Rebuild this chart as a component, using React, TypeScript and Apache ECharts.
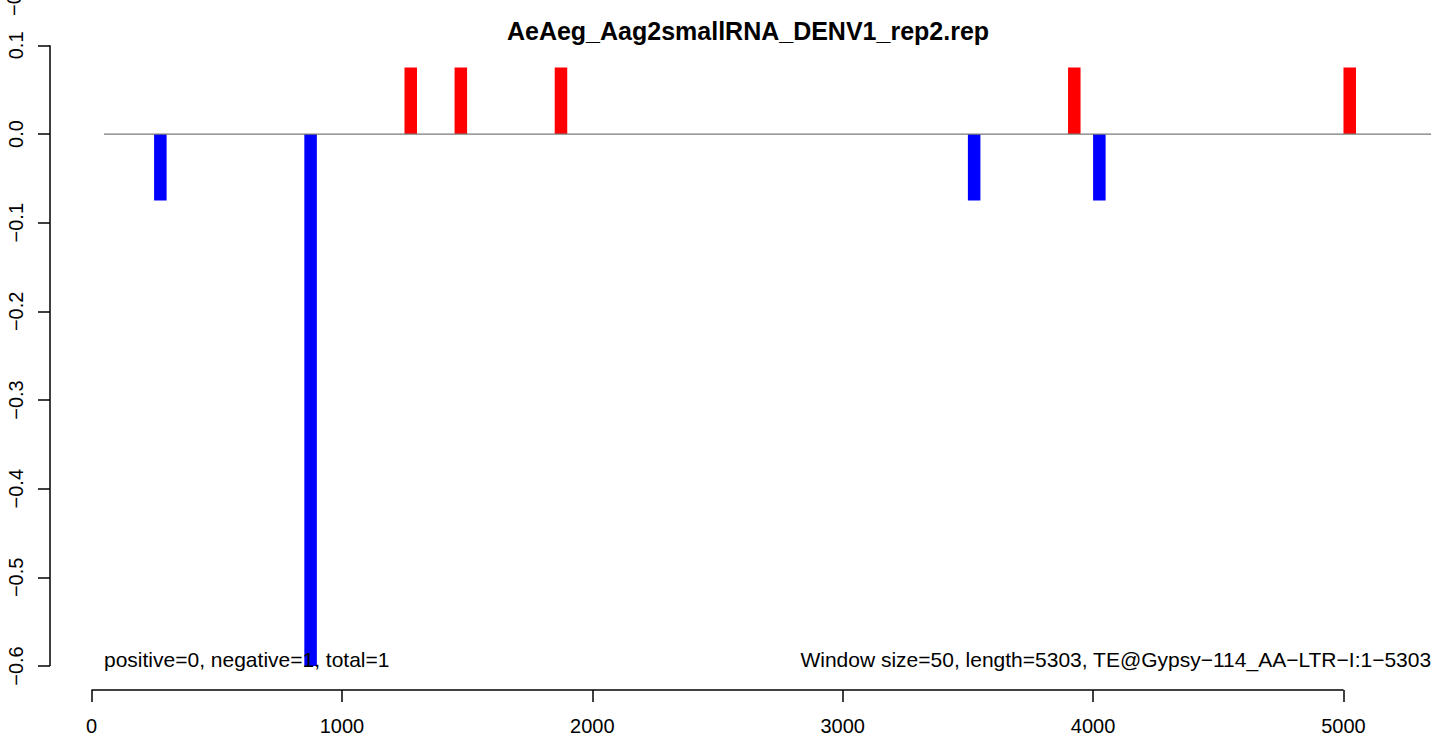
import React, { useEffect, useRef } from "react";
import * as echarts from "echarts";

// ---- data ----
const windowSize = 50;
const windowStarts = [250, 850, 1250, 1450, 1850, 3500, 3900, 4000, 5000];
const windowValues = [-0.075, -0.6, 0.075, 0.075, 0.075, -0.075, 0.075, -0.075, 0.075];
const xTicks = [0, 1000, 2000, 3000, 4000, 5000];
const yTicks = [-0.6, -0.5, -0.4, -0.3, -0.2, -0.1, 0, 0.1];
const zeroLine = [[50, 0], [5350, 0]];
const annotX = [50, 5350];
const annotY = [-0.6, -0.6];
const annotText = [
  "positive=0, negative=1, total=1",
  "Window size=50, length=5303, TE@Gypsy\u2212114_AA\u2212LTR\u2212I:1\u22125303",
];
const annotAlign = ["left", "right"];
const titleText = "AeAeg_Aag2smallRNA_DENV1_rep2.rep";

const X_MIN = -165.7;
const X_MAX = 5357.5;
const Y_MIN = -0.627;
const Y_MAX = 0.102;

const FONT = '"Liberation Sans", Arial, Helvetica, sans-serif';

export default function App() {
  const ref = useRef<HTMLDivElement>(null);
  useEffect(() => {
    if (!ref.current) return;
    const chart = echarts.init(ref.current, null, { renderer: "svg" });
    const option: any = {
      animation: false,
      backgroundColor: "#ffffff",
      grid: { left: 50, top: 43.6, width: 1383, height: 646.4, containLabel: false },
      xAxis: {
        type: "value",
        min: X_MIN,
        max: X_MAX,
        axisLine: { show: false, onZero: false },
        splitLine: { show: false },
        axisTick: {
          show: true,
          length: 12,
          customValues: xTicks,
          lineStyle: { color: "#000", width: 1.5 },
        },
        axisLabel: {
          customValues: xTicks,
          margin: 26,
          fontSize: 20,
          fontFamily: FONT,
          color: "#000",
          formatter: (v: number) => String(v),
        },
      },
      yAxis: {
        type: "value",
        min: Y_MIN,
        max: Y_MAX,
        axisLine: { show: false, onZero: false },
        splitLine: { show: false },
        axisTick: {
          show: true,
          length: 12,
          customValues: yTicks,
          lineStyle: { color: "#000", width: 1.5 },
        },
        axisLabel: {
          customValues: yTicks,
          rotate: 90,
          margin: 34,
          fontSize: 20,
          fontFamily: FONT,
          color: "#000",
          align: "center",
          verticalAlign: "middle",
          formatter: (v: number) => v.toFixed(1).replace("-", "\u2212"),
        },
      },
      graphic: [
        {
          type: "text",
          x: 748,
          y: 31,
          style: {
            text: titleText,
            fill: "#000",
            font: `bold 25px ${FONT}`,
            align: "center",
            verticalAlign: "middle",
            textAlign: "center",
            textVerticalAlign: "middle",
          },
        },
        {
          type: "text",
          x: 14,
          y: 16,
          rotation: Math.PI / 2,
          style: {
            text: "\u22120",
            fill: "#000",
            font: `20px ${FONT}`,
            align: "left",
            verticalAlign: "middle",
            textAlign: "left",
            textVerticalAlign: "middle",
          },
        },
      ],
      series: [
        {
          type: "custom",
          clip: false,
          data: windowStarts.map((s, i) => [s, windowValues[i]]),
          encode: { x: 0, y: 1 },
          renderItem: (params: any, api: any) => {
            const s = api.value(0);
            const v = api.value(1);
            const p1 = api.coord([s, v]);
            const p2 = api.coord([s + windowSize, 0]);
            return {
              type: "rect",
              shape: {
                x: p1[0],
                y: Math.min(p1[1], p2[1]),
                width: p2[0] - p1[0],
                height: Math.abs(p2[1] - p1[1]),
              },
              style: { fill: v > 0 ? "#ff0000" : "#0000ff" },
            };
          },
          z: 2,
        },
        {
          type: "line",
          data: zeroLine,
          symbol: "none",
          clip: false,
          silent: true,
          lineStyle: { color: "#7a7a7a", width: 1.2 },
          z: 3,
        },
        {
          type: "line",
          data: [[xTicks[0], Y_MIN], [xTicks[xTicks.length - 1], Y_MIN]],
          symbol: "none",
          clip: false,
          silent: true,
          lineStyle: { color: "#000", width: 1.5 },
          z: 3,
        },
        {
          type: "line",
          data: [[X_MIN, yTicks[0]], [X_MIN, yTicks[yTicks.length - 1]]],
          symbol: "none",
          clip: false,
          silent: true,
          lineStyle: { color: "#000", width: 1.5 },
          z: 3,
        },
        {
          type: "custom",
          clip: false,
          data: annotX.map((x, i) => [x, annotY[i], i]),
          encode: { x: 0, y: 1 },
          renderItem: (params: any, api: any) => {
            const idx = api.value(2);
            const p = api.coord([api.value(0), api.value(1)]);
            return {
              type: "text",
              x: p[0],
              y: p[1] + 4,
              style: {
                text: annotText[idx],
                fill: "#000",
                font: `21px ${FONT}`,
                align: annotAlign[idx],
                verticalAlign: "bottom",
                textAlign: annotAlign[idx],
                textVerticalAlign: "bottom",
              },
            };
          },
          z: 4,
        },
      ],
    };
    chart.setOption(option);
    return () => chart.dispose();
  }, []);
  return (
    <div
      ref={ref}
      style={{ position: "absolute", left: 0, top: 0, width: 1433, height: 740 }}
    />
  );
}
